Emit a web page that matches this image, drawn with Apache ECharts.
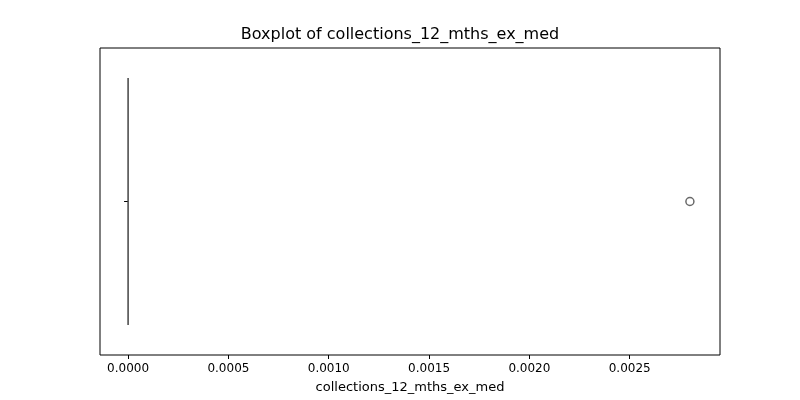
<!DOCTYPE html>
<html><head><meta charset="utf-8">
<script src="https://cdn.jsdelivr.net/npm/echarts@6/dist/echarts.min.js"></script>
<style>html,body{margin:0;background:#fff}#c{width:800px;height:400px}</style>
</head><body><div id="c"></div>
<script>
var title = 'Boxplot of collections_12_mths_ex_med';
var xName = 'collections_12_mths_ex_med';
var categories = [''];
// min, Q1, median, Q3, max
var boxData = [[0, 0, 0, 0, 0]];
var outliers = [0.0028];
var tickValues = [0, 0.0005, 0.001, 0.0015, 0.002, 0.0025];

var chart = echarts.init(document.getElementById('c'));
chart.setOption({
    animation: false,
    title: {
        text: title, left: 'center', top: 22,
        textStyle: {fontFamily: 'DejaVu Sans', fontSize: 16, fontWeight: 'normal', color: '#000'}
    },
    grid: {left: 100, right: 80, top: 48, bottom: 45, show: true, borderColor: '#000', borderWidth: 1},
    xAxis: {
        type: 'value', min: -0.00014, max: 0.00295,
        name: xName, nameLocation: 'middle', nameGap: 26,
        nameTextStyle: {fontFamily: 'DejaVu Sans', fontSize: 13, color: '#000'},
        splitLine: {show: false},
        axisLine: {show: false},
        axisTick: {show: true, length: 4, lineStyle: {color: '#000'}, customValues: tickValues},
        axisLabel: {
            fontFamily: 'DejaVu Sans', fontSize: 12, color: '#000', customValues: tickValues,
            formatter: function (v) { return v.toFixed(4); }
        }
    },
    yAxis: {
        type: 'category', data: categories,
        axisLine: {show: false},
        axisTick: {show: true, length: 4, alignWithLabel: true, lineStyle: {color: '#000'}},
        axisLabel: {show: false}
    },
    series: [{
        type: 'boxplot', data: boxData, boxWidth: [247, 247],
        itemStyle: {color: '#3a6f9a', borderColor: '#444', borderWidth: 1.5}
    }, {
        type: 'scatter',
        data: outliers.map(function (v) { return [v, 0]; }),
        symbol: 'circle', symbolSize: 8,
        itemStyle: {color: '#fff', borderColor: '#444', borderWidth: 1.5}
    }]
});
</script></body></html>
